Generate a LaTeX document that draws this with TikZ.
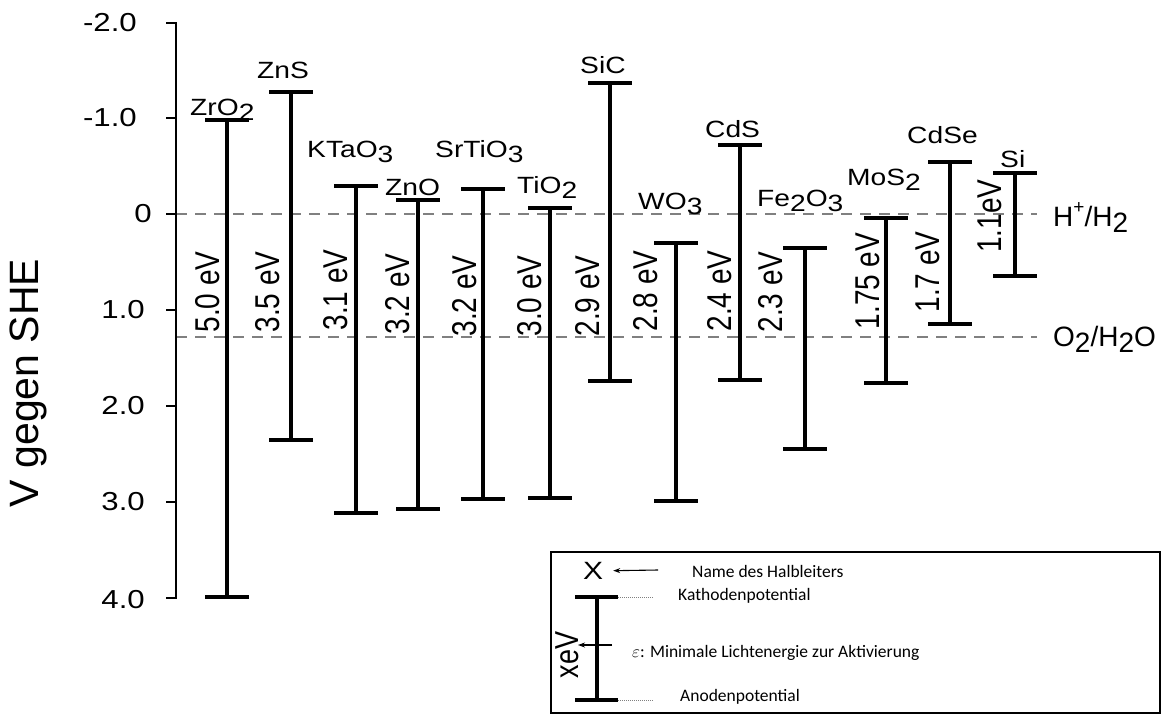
\documentclass[tikz,border=0pt]{standalone}
\usepackage{fontspec}
\usepackage{graphicx}
\setmainfont{Liberation Sans}
\newfontfamily\legfont{Carlito}
\usetikzlibrary{arrows.meta}
\newcommand\hs[1]{\scalebox{1.2}[1]{#1}}
\newcommand\vs[1]{\scalebox{1}[1.23]{#1}}
\newcommand\sbs[1]{\raisebox{-0.22em}{#1}}
\tikzset{
  axisline/.style={line width=2.6pt, line join=miter},
  bandline/.style={line width=3.3pt},
  bandcap/.style={line width=4.4pt},
  refline/.style={line width=1.8pt, draw={rgb,255:red,128;green,128;blue,128}, dash pattern=on 11pt off 8pt},
  ticklab/.style={anchor=east, inner sep=0pt, font=\fontsize{26}{30}\selectfont},
  namelab/.style={anchor=base west, inner sep=0pt, font=\fontsize{23.5}{28}\selectfont},
  gaplab/.style={rotate=90, inner sep=0pt, font=\fontsize{28}{33}\selectfont},
  reflab/.style={anchor=base west, inner sep=0pt, font=\fontsize{28}{33}\selectfont},
  legtext/.style={anchor=base west, inner sep=0pt, font=\legfont\fontsize{17.5}{21}\selectfont},
  legarrow/.style={line width=1.1pt, -{Stealth[length=7pt,width=5pt]}},
  legdot/.style={line width=1pt, draw=gray, dash pattern=on 1pt off 1pt},
}
\begin{document}
\begin{tikzpicture}[x=1pt,y=-1pt]
\useasboundingbox (0,0) rectangle (1164,715);
% reference lines
\coordinate (hs) at (176,214); \coordinate (he) at (1037,214);
\coordinate (os) at (176,337); \coordinate (oe) at (1037,337);
\draw[refline] (hs) -- (he);
\draw[refline] (os) -- (oe);
% axis
\coordinate (atop) at (176,23); \coordinate (abot) at (176,598);
\draw[axisline] ([xshift=-10pt]atop) -- (atop) -- (abot) -- ([xshift=-10pt]abot);
\foreach \yy in {118,214,310,406,502}{
  \draw[axisline] (166,\yy) -- (176,\yy);
}
\node[ticklab] (tm2) at (137,23) {\hs{-2.0}};
\node[ticklab] (tm1) at (137,118) {\hs{-1.0}};
\node[ticklab] (t0) at (152,214) {\hs{0}};
\node[ticklab] (t1) at (145,310) {\hs{1.0}};
\node[ticklab] (t2) at (145,406) {\hs{2.0}};
\node[ticklab] (t3) at (145,502) {\hs{3.0}};
\node[ticklab] (t4) at (145,600) {\hs{4.0}};
\node[rotate=90, inner sep=0pt, font=\fontsize{41}{45}\selectfont] (ylab) at (28,383) {V gegen SHE};
% bands
\foreach \n/\x/\t/\b in {zro/227/120/597, zns/291/92/440, kta/356/186/513, zno/418/200/509,
  sto/483/189/499, tio/550/208/498, sic/610/83/381, wo/676/243/501, cds/740/145/380,
  fe/805/248/449, mos/886/218/383, cdse/950/162/324, si/1015/173/276}{
  \coordinate (\n t) at (\x,\t);
  \coordinate (\n b) at (\x,\b);
  \draw[bandline] (\n t) -- (\n b);
  \draw[bandcap] ([xshift=-22pt]\n t) -- ([xshift=22pt]\n t);
  \draw[bandcap] ([xshift=-22pt]\n b) -- ([xshift=22pt]\n b);
}
% names
\node[namelab] (nzro) at (190,115) {\hs{ZrO\sbs{2}}};
\node[namelab] (nzns) at (257,78) {\hs{ZnS}};
\node[namelab] (nkta) at (307,157) {\hs{KTaO\sbs{3}}};
\node[namelab] (nzno) at (385,195) {\hs{ZnO}};
\node[namelab] (nsto) at (435,157) {\hs{SrTiO\sbs{3}}};
\node[namelab] (ntio) at (517,193) {\hs{TiO\sbs{2}}};
\node[namelab] (nsic) at (580,73) {\hs{SiC}};
\node[namelab] (nwo) at (638,209) {\hs{WO\sbs{3}}};
\node[namelab] (ncds) at (705,137) {\hs{CdS}};
\node[namelab] (nfe) at (757,206) {\hs{Fe\sbs{2}O\sbs{3}}};
\node[namelab] (nmos) at (847,185) {\hs{MoS\sbs{2}}};
\node[namelab] (ncdse) at (907,143) {\hs{CdSe}};
\node[namelab] (nsi) at (1000,167) {\hs{Si}};
% gaps
\node[gaplab] (gzro) at (208,292) {\vs{5.0 eV}};
\node[gaplab] (gzns) at (268,292) {\vs{3.5 eV}};
\node[gaplab] (gkta) at (336,290) {\vs{3.1 eV}};
\node[gaplab] (gzno) at (398,294) {\vs{3.2 eV}};
\node[gaplab] (gsto) at (465,296) {\vs{3.2 eV}};
\node[gaplab] (gtio) at (530,296) {\vs{3.0 eV}};
\node[gaplab] (gsic) at (588,296) {\vs{2.9 eV}};
\node[gaplab] (gwo) at (646,291) {\vs{2.8 eV}};
\node[gaplab] (gcds) at (720,291) {\vs{2.4 eV}};
\node[gaplab] (gfe) at (771,292) {\vs{2.3 eV}};
\node[gaplab] (gmos) at (868,281) {\vs{1.75 eV}};
\node[gaplab] (gcdse) at (928,272) {\vs{1.7 eV}};
\node[gaplab] (gsi) at (990,216) {\vs{1.1eV}};
% reference labels
\node[reflab] (rh) at (1053,226) {H\raisebox{0.45em}{\fontsize{19}{20}\selectfont +}/H\sbs{2}};
\node[reflab] (ro) at (1053,346) {O\sbs{2}/H\sbs{2}O};
% legend
\node[draw, line width=2.4pt, minimum width=609pt, minimum height=161pt, inner sep=0pt, anchor=north west] (legbox) at (550,551) {};
\node[inner sep=0pt, inner xsep=10pt, font=\fontsize{25}{30}\selectfont] (lx) at (593,571) {\hs{X}};
\coordinate (lxa) at (658,570);
\draw[legarrow] (lxa) -- (lx);
\node[legtext] (lname) at (692,577) {Name des Halbleiters};
\coordinate (lbt) at (597,597); \coordinate (lbb) at (597,700);
\draw[line width=3.5pt] (lbt) -- (lbb);
\draw[line width=4.5pt] ([xshift=-22pt]lbt) -- ([xshift=21pt]lbt);
\draw[line width=4.5pt] ([xshift=-22pt]lbb) -- ([xshift=21pt]lbb);
\coordinate (ldt) at (653,597); \coordinate (ldb) at (653,700);
\draw[legdot] ([xshift=21pt]lbt) -- (ldt);
\draw[legdot] ([xshift=21pt]lbb) -- (ldb);
\node[legtext] (lkat) at (678,600) {Kathodenpotential};
\node[legtext] (lano) at (680,701) {Anodenpotential};
\node[gaplab, font=\fontsize{27}{30}\selectfont] (lxev) at (567,655) {\vs{xeV}};
\coordinate (lea) at (612,645); \coordinate (leb) at (578,645);
\draw[legarrow] (lea) -- (leb);
\node[legtext] (leps) at (632,657) {$\varepsilon$: Minimale Lichtenergie zur Aktivierung};
\end{tikzpicture}
\end{document}
